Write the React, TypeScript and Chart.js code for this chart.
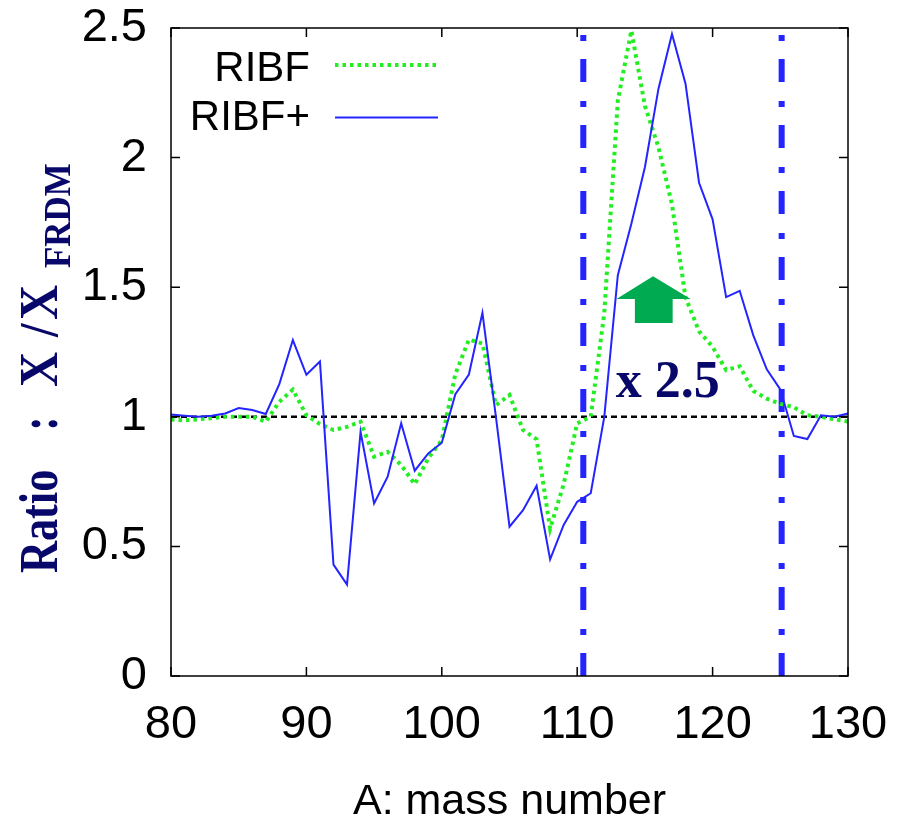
import React, { useEffect, useRef } from "react";
import { Chart, registerables } from "chart.js";

Chart.register(...registerables);

const massNumbers = [
  80, 81, 82, 83, 84, 85, 86, 87, 88, 89, 90, 91, 92, 93, 94, 95, 96, 97, 98, 99,
  100, 101, 102, 103, 104, 105, 106, 107, 108, 109, 110, 111, 112, 113, 114, 115,
  116, 117, 118, 119, 120, 121, 122, 123, 124, 125, 126, 127, 128, 129, 130,
];

const ribf = [
  0.99, 0.986, 0.99, 0.995, 1.0, 1.0, 1.0, 0.981, 1.058, 1.105, 1.006, 0.972, 0.949,
  0.961, 0.981, 0.846, 0.865, 0.814, 0.74, 0.84, 0.91, 1.165, 1.298, 1.283, 1.045,
  1.084, 0.949, 0.913, 0.568, 0.74, 0.975, 1.0, 1.4, 2.22, 2.49, 2.2, 2.04, 1.82,
  1.46, 1.33, 1.27, 1.18, 1.195, 1.1, 1.07, 1.05, 1.037, 1.006, 1.0, 0.99, 0.982,
];

const ribfPlus = [
  1.009, 1.004, 1.0, 1.004, 1.013, 1.034, 1.026, 1.011, 1.126, 1.296, 1.162, 1.213,
  0.43, 0.353, 0.942, 0.666, 0.769, 0.975, 0.792, 0.859, 0.9, 1.087, 1.163, 1.401,
  0.999, 0.576, 0.64, 0.734, 0.45, 0.583, 0.672, 0.705, 1.0, 1.546, 1.745, 1.963,
  2.265, 2.477, 2.285, 1.903, 1.762, 1.462, 1.486, 1.315, 1.183, 1.106, 0.926, 0.914,
  1.006, 1.0, 1.013,
];

const seriesNames = ["RIBF", "RIBF+"];
const xTicks = [80, 90, 100, 110, 120, 130];
const yTicks = [0, 0.5, 1, 1.5, 2, 2.5];
const referenceLevel = [1, 1];
const referenceRange = [80, 130];
const regionBounds = [110.45, 125.1];
const yRange = [0, 2.5];
const xTitle = "A: mass number";
const yTitleParts = ["Ratio", ":", "X", "/", "X", "FRDM"];
const annotationText = "x 2.5";
// arrow in data coordinates
const arrowTip = [115.6, 1.542];
const arrowHeadBase = [112.9, 118.38, 1.454];
const arrowShaft = [114.26, 117.05, 1.362];
const annotationPos = [112.85, 1.077];

const SANS = "'Liberation Sans', Arial, sans-serif";
const SERIF = "'Liberation Serif', 'Times New Roman', serif";
const NAVY = "#08086a";
const BLUE = "#2424ff";
const GREEN = "#22ee22";

const zeroPad = (scale: any) => {
  scale.paddingTop = 0;
  scale.paddingBottom = 0;
  scale.paddingLeft = 0;
  scale.paddingRight = 0;
};

const overlayPlugin = {
  id: "overlay",
  afterDatasetsDraw(chart: any) {
    const { ctx, chartArea, scales } = chart;
    const xs = scales.x;
    const ys = scales.y;
    const { left, right, top, bottom } = chartArea;
    ctx.save();

    // arrow
    ctx.fillStyle = "#00aa50";
    ctx.beginPath();
    ctx.moveTo(xs.getPixelForValue(arrowTip[0]), ys.getPixelForValue(arrowTip[1]));
    ctx.lineTo(xs.getPixelForValue(arrowHeadBase[1]), ys.getPixelForValue(arrowHeadBase[2]));
    ctx.lineTo(xs.getPixelForValue(arrowShaft[1]), ys.getPixelForValue(arrowHeadBase[2]));
    ctx.lineTo(xs.getPixelForValue(arrowShaft[1]), ys.getPixelForValue(arrowShaft[2]));
    ctx.lineTo(xs.getPixelForValue(arrowShaft[0]), ys.getPixelForValue(arrowShaft[2]));
    ctx.lineTo(xs.getPixelForValue(arrowShaft[0]), ys.getPixelForValue(arrowHeadBase[2]));
    ctx.lineTo(xs.getPixelForValue(arrowHeadBase[0]), ys.getPixelForValue(arrowHeadBase[2]));
    ctx.closePath();
    ctx.fill();

    // annotation text
    ctx.fillStyle = NAVY;
    ctx.font = `bold 52px ${SERIF}`;
    ctx.textAlign = "left";
    ctx.textBaseline = "alphabetic";
    ctx.fillText(
      annotationText,
      xs.getPixelForValue(annotationPos[0]),
      ys.getPixelForValue(annotationPos[1])
    );

    // frame
    ctx.strokeStyle = "#000";
    ctx.lineWidth = 1.5;
    ctx.setLineDash([]);
    ctx.strokeRect(left, top, right - left, bottom - top);

    // inward ticks
    const tl = 9;
    ctx.beginPath();
    xTicks.forEach((v) => {
      const px = xs.getPixelForValue(v);
      ctx.moveTo(px, bottom);
      ctx.lineTo(px, bottom - tl);
      ctx.moveTo(px, top);
      ctx.lineTo(px, top + tl);
    });
    yTicks.forEach((v) => {
      const py = ys.getPixelForValue(v);
      ctx.moveTo(left, py);
      ctx.lineTo(left + tl, py);
      ctx.moveTo(right, py);
      ctx.lineTo(right - tl, py);
    });
    ctx.stroke();

    // legend
    ctx.font = `42px ${SANS}`;
    ctx.fillStyle = "#000";
    ctx.textAlign = "right";
    ctx.fillText(seriesNames[0], 310, 81);
    ctx.fillText(seriesNames[1], 310, 130);
    ctx.lineWidth = 4;
    ctx.strokeStyle = GREEN;
    ctx.setLineDash([3.5, 4]);
    ctx.beginPath();
    ctx.moveTo(335, 65);
    ctx.lineTo(438, 65);
    ctx.stroke();
    ctx.setLineDash([]);
    ctx.lineWidth = 2;
    ctx.strokeStyle = BLUE;
    ctx.beginPath();
    ctx.moveTo(335, 117.5);
    ctx.lineTo(438, 117.5);
    ctx.stroke();

    ctx.restore();
  },
  afterDraw(chart: any) {
    const { ctx } = chart;
    ctx.save();
    ctx.fillStyle = NAVY;
    ctx.textAlign = "left";
    ctx.textBaseline = "alphabetic";
    const seg = (text: string, baseX: number, startY: number, size: number, sx: number) => {
      ctx.save();
      ctx.translate(baseX, startY);
      ctx.rotate(-Math.PI / 2);
      ctx.scale(sx, 1);
      ctx.font = `bold ${size}px ${SERIF}`;
      ctx.fillText(text, 0, 0);
      ctx.restore();
    };
    seg(yTitleParts[0], 57, 573, 54, 0.82);
    seg(yTitleParts[1], 57, 431, 54, 0.82);
    seg(yTitleParts[2], 57, 387, 54, 0.9);
    seg(yTitleParts[3], 57, 337, 54, 0.9);
    seg(yTitleParts[4], 57, 320, 54, 0.9);
    seg(yTitleParts[5], 70, 268, 38, 0.92);
    ctx.restore();
  },
};

export default function App() {
  const canvasRef = useRef<HTMLCanvasElement | null>(null);

  useEffect(() => {
    const canvas = canvasRef.current;
    if (!canvas) return;
    const ribfData = massNumbers.map((a, i) => ({ x: a, y: ribf[i] }));
    const ribfPlusData = massNumbers.map((a, i) => ({ x: a, y: ribfPlus[i] }));
    const refData = referenceRange.map((a, i) => ({ x: a, y: referenceLevel[i] }));
    const bound = (v: number) => yRange.map((y) => ({ x: v, y }));

    const chart = new Chart(canvas, {
      type: "line",
      data: {
        datasets: [
          {
            label: seriesNames[1],
            data: ribfPlusData,
            borderColor: BLUE,
            borderWidth: 2,
            pointRadius: 0,
            tension: 0,
            fill: false,
          },
          {
            label: seriesNames[0],
            data: ribfData,
            borderColor: GREEN,
            borderWidth: 4,
            borderDash: [3.5, 4],
            pointRadius: 0,
            tension: 0,
            fill: false,
          },
          {
            label: "ref",
            data: refData,
            borderColor: "#000",
            borderWidth: 2.5,
            borderDash: [6, 4],
            pointRadius: 0,
            fill: false,
          },
          {
            label: "lower",
            data: bound(regionBounds[0]),
            borderColor: BLUE,
            borderWidth: 6,
            borderDash: [23, 18, 6, 19],
            pointRadius: 0,
            fill: false,
          },
          {
            label: "upper",
            data: bound(regionBounds[1]),
            borderColor: BLUE,
            borderWidth: 6,
            borderDash: [23, 18, 6, 19],
            pointRadius: 0,
            fill: false,
          },
        ],
      },
      options: {
        animation: false,
        responsive: false,
        layout: { padding: { left: 0, right: 50, top: 28, bottom: 0 } },
        plugins: {
          legend: { display: false },
          tooltip: { enabled: false },
        },
        scales: {
          x: {
            type: "linear",
            min: 80,
            max: 130,
            afterBuildTicks: (scale: any) => {
              scale.ticks = xTicks.map((v) => ({ value: v }));
            },
            afterFit: (scale: any) => {
              scale.height = 155;
              zeroPad(scale);
            },
            ticks: {
              color: "#000",
              font: { family: SANS, size: 47, lineHeight: 1.2 },
              padding: 21,
              maxRotation: 0,
              autoSkip: false,
              callback: (v: any) => String(v),
            },
            grid: { display: false, drawTicks: false },
            border: { display: false },
            title: {
              display: true,
              text: xTitle,
              color: "#000",
              font: { family: SANS, size: 43, lineHeight: 1.2 },
              padding: { top: 0, bottom: 3 },
            },
          },
          y: {
            type: "linear",
            min: yRange[0],
            max: yRange[1],
            afterBuildTicks: (scale: any) => {
              scale.ticks = yTicks.map((v) => ({ value: v }));
            },
            afterFit: (scale: any) => {
              scale.width = 171;
              zeroPad(scale);
            },
            ticks: {
              color: "#000",
              font: { family: SANS, size: 47, lineHeight: 1.2 },
              padding: 24,
              autoSkip: false,
              callback: (v: any) => String(v),
            },
            grid: { display: false, drawTicks: false },
            border: { display: false },
          },
        },
      },
      plugins: [overlayPlugin],
    } as any);

    return () => chart.destroy();
  }, []);

  return (
    <div style={{ position: "absolute", left: 0, top: 0, width: 898, height: 831, background: "#fff" }}>
      <canvas ref={canvasRef} width={898} height={831} style={{ display: "block" }} />
    </div>
  );
}
